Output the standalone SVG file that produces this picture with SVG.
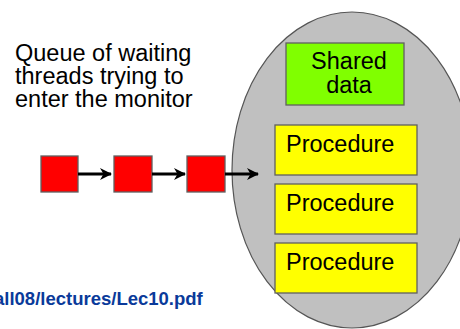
<svg xmlns="http://www.w3.org/2000/svg" width="460" height="329" viewBox="0 0 460 329">
  <style>
    .label { font-family: "Liberation Sans", Arial, sans-serif; font-size: 23.5px; fill: #000; }
    .box { stroke: #606060; stroke-width: 1.3; }
    .proc { fill: #ffff00; }
    .thread { fill: #ff0000; stroke: #606060; stroke-width: 1.3; }
    .link { stroke: #000; stroke-width: 3; fill: none; marker-end: url(#head); }
    .src { font-family: "Liberation Sans", Arial, sans-serif; font-size: 18.5px; font-weight: bold; fill: #0a3a9a; }
  </style>
  <defs>
    <marker id="head" viewBox="0 0 12 12" refX="11" refY="6" markerWidth="12" markerHeight="12" markerUnits="userSpaceOnUse" orient="auto">
      <path d="M0,0 L12,6 L0,12 L3.5,6 Z" fill="#000"/>
    </marker>
  </defs>
  <rect width="460" height="329" fill="#fff"/>

  <g id="caption">
    <text class="label" x="15" y="61">Queue of waiting</text>
    <text class="label" x="15" y="83.5">threads trying to</text>
    <text class="label" x="15" y="106.5">enter the monitor</text>
  </g>

  <g id="monitor">
    <ellipse cx="352" cy="170" rx="120" ry="158" fill="#c0c0c0" stroke="#555" stroke-width="1.2"/>
  </g>

  <g id="shared-data">
    <rect class="box" x="286" y="43" width="118" height="62" fill="#80ff00"/>
    <text class="label" x="349" y="69" text-anchor="middle">Shared</text>
    <text class="label" x="349" y="93" text-anchor="middle">data</text>
  </g>

  <g id="procedure-1">
    <rect class="box proc" x="275" y="125" width="142" height="50"/>
    <text class="label" x="286" y="152">Procedure</text>
  </g>
  <g id="procedure-2">
    <rect class="box proc" x="275" y="184" width="142" height="50"/>
    <text class="label" x="286" y="211">Procedure</text>
  </g>
  <g id="procedure-3">
    <rect class="box proc" x="275" y="243" width="142" height="50"/>
    <text class="label" x="286" y="270">Procedure</text>
  </g>

  <g id="thread-1"><rect class="thread" x="41" y="156" width="37" height="36"/></g>
  <g id="thread-2"><rect class="thread" x="114" y="156" width="38" height="36"/></g>
  <g id="thread-3"><rect class="thread" x="187" y="156" width="38" height="36"/></g>

  <g id="connectors">
    <line class="link" x1="78" y1="174" x2="111" y2="174"/>
    <line class="link" x1="152" y1="174" x2="185" y2="174"/>
    <line class="link" x1="225" y1="174" x2="258" y2="174"/>
  </g>

  <g id="source">
    <text class="src" x="-6" y="305">all08/lectures/Lec10.pdf</text>
  </g>
</svg>
